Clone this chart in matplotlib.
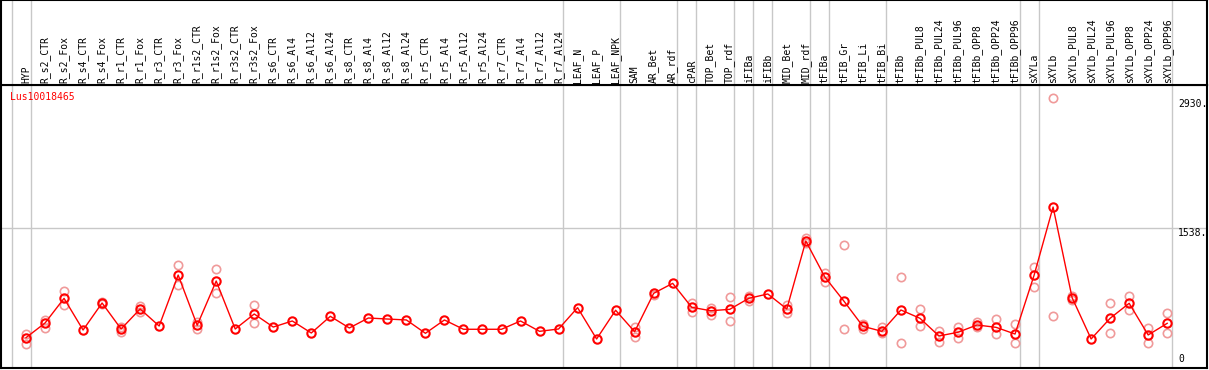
import matplotlib
matplotlib.use('Agg')
import matplotlib.pyplot as plt
import numpy as np

samples = ['HYP', 'R_s2_CTR', 'R_s2_Fox', 'R_s4_CTR', 'R_s4_Fox', 'R_r1_CTR', 'R_r1_Fox',
           'R_r3_CTR', 'R_r3_Fox', 'R_r1s2_CTR', 'R_r1s2_Fox', 'R_r3s2_CTR', 'R_r3s2_Fox',
           'R_s6_CTR', 'R_s6_Al4', 'R_s6_Al12', 'R_s6_Al24', 'R_s8_CTR', 'R_s8_Al4',
           'R_s8_Al12', 'R_s8_Al24', 'R_r5_CTR', 'R_r5_Al4', 'R_r5_Al12', 'R_r5_Al24',
           'R_r7_CTR', 'R_r7_Al4', 'R_r7_Al12', 'R_r7_Al24', 'LEAF_N', 'LEAF_P', 'LEAF_NPK',
           'SAM', 'AR_Bet', 'AR_rdf', 'cPAR', 'TOP_Bet', 'TOP_rdf', 'iFIBa', 'iFIBb',
           'MID_Bet', 'MID_rdf', 'tFIBa', 'tFIB_Gr', 'tFIB_Li', 'tFIB_Bi', 'tFIBb',
           'tFIBb_PUL8', 'tFIBb_PUL24', 'tFIBb_PUL96', 'tFIBb_OPP8', 'tFIBb_OPP24',
           'tFIBb_OPP96', 'sXYLa', 'sXYLb', 'sXYLb_PUL8', 'sXYLb_PUL24', 'sXYLb_PUL96',
           'sXYLb_OPP8', 'sXYLb_OPP24', 'sXYLb_OPP96']

# mean expression
mean_val = [361, 518, 783, 443, 733, 454, 669, 486, 1033, 494, 969, 454, 615, 475, 540,
            411, 590, 465, 572, 561, 551, 408, 551, 451, 451, 451, 540, 429, 454, 683,
            347, 655, 425, 837, 944, 687, 650, 665, 783, 830, 669, 1398, 1012, 754, 483,
            429, 658, 569, 379, 419, 497, 472, 400, 1030, 1763, 790, 347, 569, 730, 390,
            515]

nan = np.nan
# replicates (nan = hidden under the mean marker)
rep_a = [404, 554, 862, nan, 747, 425, 698, nan, 1141, 526, 1095, nan, 712, nan, nan,
         nan, nan, nan, nan, nan, nan, nan, nan, nan, nan, nan, nan, nan, nan, nan,
         nan, nan, 479, 819, nan, 730, 676, 794, 811, nan, 712, 1427, 1058, 1355, 508,
         472, 1009, 665, 436, 479, 526, 561, 508, 1123, 2930, 808, nan, 730, 808, 465,
         622]
rep_b = [296, 465, 708, nan, 722, 472, 636, nan, 926, 457, 837, nan, 518, nan, nan,
         nan, nan, nan, nan, nan, nan, nan, nan, nan, nan, nan, nan, nan, nan, nan,
         nan, nan, 365, nan, nan, 636, 604, 540, 754, nan, 622, 1380, 962, 454, 451,
         408, 304, 483, 318, 361, 472, 397, 300, 901, 593, 765, nan, 408, 655, 304,
         408]

# last sample of each tissue group
group_ends = [-1, 0, 28, 31, 34, 35, 37, 38, 39, 41, 42, 45, 52, 53, 60]
gene = 'Lus10018465'
y_max = 2930
y_mid = 1538

W, H = 1209, 370
fig = plt.figure(figsize=(W / 100, H / 100), dpi=100)
plt.rcParams['font.family'] = 'DejaVu Sans Mono'

x0, step = 26, 19.02
xlim = ((1 - x0) / step, (1207 - x0) / step)
zero_px, px_per = 371.3, 0.09318

ax = fig.add_axes([1 / W, (H - 368) / H, 1206 / W, (368 - 85) / H])
hax = fig.add_axes([1 / W, (H - 85) / H, 1206 / W, 85 / H])

x = np.arange(len(samples))
for a in (ax, hax):
    a.set_xlim(*xlim)
    a.set_xticks([])
    a.set_yticks([])
    for g in group_ends:
        a.axvline(g + 0.24, color='#c8c8c8', lw=1, zorder=0)
    for s in a.spines.values():
        s.set_linewidth(1.5)
ax.set_ylim((zero_px - 368) / px_per, (zero_px - 85) / px_per)
hax.set_ylim(0, 85)

ax.axhline(y_mid, color='#c8c8c8', lw=1, zorder=0)

ax.plot(x, rep_a, 'o', ms=6, mfc='none', mec='#f09a9a', mew=1.2, zorder=2)
ax.plot(x, rep_b, 'o', ms=6, mfc='none', mec='#f09a9a', mew=1.2, zorder=2)
ax.plot(x, mean_val, '-', color='red', lw=1, zorder=3)
ax.plot(x, mean_val, 'o', ms=6, mfc='none', mec='red', mew=1.5, zorder=4)

for i, name in enumerate(samples):
    hax.text(i, 2, name, rotation=90, ha='center', va='bottom', fontsize=7)

lab_x = (1178 - x0) / step
ax.text(lab_x, y_max - 10, '%d.' % y_max, ha='left', va='top', fontsize=7)
ax.text(lab_x, y_mid - 5, '%d.' % y_mid, ha='left', va='top', fontsize=7)
ax.text(lab_x, (zero_px - 364) / px_per, '0', ha='left', va='bottom', fontsize=7)

fig.text(10 / W, 1 - 92 / H, gene, color='red', ha='left', va='top', fontsize=7)

fig.savefig('out.png', dpi=100)
